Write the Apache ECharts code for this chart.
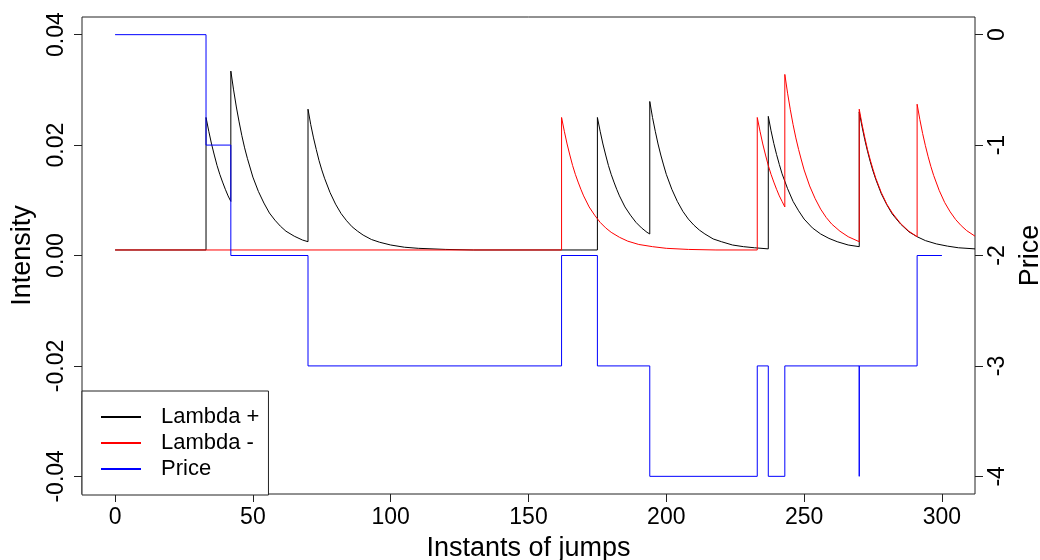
<!DOCTYPE html>
<html>
<head>
<meta charset="utf-8">
<script src="https://cdn.jsdelivr.net/npm/echarts@6.0.0/dist/echarts.min.js"></script>
<style>
html,body{margin:0;padding:0;background:#fff;}
#chart{width:1040px;height:560px;}
</style>
</head>
<body>
<div id="chart"></div>
<script>
// Tick values
const xTicks = [0, 50, 100, 150, 200, 250, 300];
const intensityTicks = [-0.04, -0.02, 0, 0.02, 0.04];
const priceTicks = [-4, -3, -2, -1, 0];

// Lambda + (black) [instant, intensity]
const lambdaPlus = [
  [0,0.001],[33,0.001],[33,0.025],[34,0.0225],[35,0.0202],[36,0.0182],[37,0.0163],[38,0.0147],[39,0.0133],[40,0.0120],[41,0.0108],[42,0.0098],
  [42,0.0334],[43,0.0300],[44,0.0269],[45,0.0242],[46,0.0217],[47,0.0195],[48,0.0176],[50,0.0142],[52,0.0116],[54,0.0095],[56,0.0077],[58,0.0064],[60,0.0053],[62,0.0044],[65,0.0035],[68,0.0028],[70,0.0025],
  [70,0.0265],[71,0.0237],[72,0.0213],[73,0.0192],[74,0.0172],[75,0.0155],[76,0.0140],[78,0.0114],[80,0.0093],[82,0.0076],[84,0.0063],[86,0.0052],[88,0.0044],[90,0.0037],[93,0.0029],[96,0.0024],[100,0.0019],[105,0.0015],[110,0.0013],[120,0.0011],[130,0.0010],[175,0.0010],
  [175,0.025],[176,0.0225],[177,0.0202],[178,0.0182],[179,0.0163],[180,0.0147],[181,0.0133],[182,0.0120],[183,0.0108],[185,0.0088],[187,0.0073],[189,0.0060],[191,0.0050],[193,0.0042],[194,0.0039],
  [194,0.0279],[195,0.0250],[196,0.0225],[197,0.0202],[198,0.0182],[199,0.0164],[200,0.0147],[202,0.0120],[204,0.0098],[206,0.0080],[208,0.0066],[210,0.0055],[212,0.0046],[214,0.0039],[217,0.0030],[220,0.0025],[224,0.0019],[228,0.0016],[232,0.0014],[237,0.0012],
  [237,0.0252],[238,0.0226],[239,0.0203],[240,0.0183],[241,0.0165],[242,0.0148],[244,0.0121],[246,0.0098],[248,0.0081],[250,0.0066],[253,0.0050],[256,0.0039],[259,0.0031],[262,0.0025],[266,0.0019],[270,0.0016],
  [270,0.0260],[271,0.0234],[272,0.0210],[273,0.0189],[274,0.0170],[275,0.0153],[276,0.0138],[278,0.0112],[280,0.0092],[282,0.0075],[285,0.0057],[288,0.0043],[291,0.0034],[294,0.0027],[298,0.0021],[302,0.0017],[306,0.0014],[312,0.0012]
];

// Lambda - (red) [instant, intensity]
const lambdaMinus = [
  [0,0.001],[162,0.001],
  [162,0.025],[163,0.0225],[164,0.0202],[165,0.0182],[166,0.0163],[167,0.0147],[168,0.0133],[169,0.0120],[170,0.0108],[172,0.0088],[174,0.0073],[176,0.0060],[178,0.0050],[180,0.0042],[183,0.0033],[186,0.0026],[190,0.0020],[195,0.0016],[200,0.0013],[208,0.0011],[218,0.0010],[233,0.0010],
  [233,0.025],[234,0.0225],[235,0.0202],[236,0.0182],[237,0.0163],[238,0.0147],[239,0.0133],[240,0.0120],[241,0.0108],[242,0.0098],[243,0.0088],
  [243,0.0328],[244,0.0294],[245,0.0264],[246,0.0237],[247,0.0213],[248,0.0192],[249,0.0173],[250,0.0155],[252,0.0126],[254,0.0103],[256,0.0084],[258,0.0069],[260,0.0057],[263,0.0044],[266,0.0034],[270,0.0025],
  [270,0.0265],[271,0.0238],[272,0.0214],[273,0.0192],[274,0.0173],[275,0.0156],[276,0.0140],[278,0.0114],[280,0.0093],[282,0.0077],[285,0.0058],[288,0.0044],[291,0.0034],
  [291,0.0274],[292,0.0246],[293,0.0221],[294,0.0199],[295,0.0179],[296,0.0161],[297,0.0145],[299,0.0118],[301,0.0096],[303,0.0079],[305,0.0065],[307,0.0054],[309,0.0045],[312,0.0035]
];

// Price (blue step)
const priceTimes = [0, 33, 42, 70, 162, 175, 194, 233, 237, 243, 270, 270, 291, 300];
const priceValues = [0, -1, -2, -3, -2, -3, -4, -3, -4, -3, -4, -3, -2, -2];

const FONT = "'Liberation Sans', Arial, sans-serif";
const chart = echarts.init(document.getElementById('chart'), null, {renderer: 'canvas'});

const priceData = priceTimes.map((t, i) => [t, priceValues[i]]);

chart.setOption({
  animation: false,
  backgroundColor: '#fff',
  grid: {left: 82, right: 65, top: 17, bottom: 66, show: true, borderColor: '#222', borderWidth: 1,
    backgroundColor: 'transparent', containLabel: false, outerBoundsMode: 'none'},
  legend: {
    orient: 'vertical', left: 82, top: 391,
    data: ['Lambda +', 'Lambda -', 'Price'],
    icon: 'rect', itemWidth: 40, itemHeight: 2, itemGap: 4,
    padding: [15, 9, 15, 19],
    backgroundColor: '#fff', borderColor: '#222', borderWidth: 1, borderRadius: 0,
    selectedMode: false,
    textStyle: {fontFamily: FONT, fontSize: 22, color: '#000', lineHeight: 22, padding: [0, 0, 0, 15]}
  },
  xAxis: {
    type: 'value', min: -12, max: 312, position: 'bottom',
    name: 'Instants of jumps', nameLocation: 'middle', nameGap: 41,
    nameTextStyle: {fontFamily: FONT, fontSize: 27, color: '#000'},
    axisLine: {show: false, onZero: false},
    axisTick: {show: true, length: 8, lineStyle: {color: '#222'}, customValues: xTicks},
    axisLabel: {fontFamily: FONT, fontSize: 23, color: '#000', margin: 12, customValues: xTicks},
    splitLine: {show: false}
  },
  yAxis: [
    {
      type: 'value', min: -0.0432, max: 0.0432, position: 'left',
      name: 'Intensity', nameLocation: 'middle', nameGap: 46, nameRotate: 90,
      nameTextStyle: {fontFamily: FONT, fontSize: 27, color: '#000'},
      axisLine: {show: false, onZero: false},
      axisTick: {show: true, length: 8, lineStyle: {color: '#222'}, customValues: intensityTicks},
      axisLabel: {fontFamily: FONT, fontSize: 23, color: '#000', margin: 14, rotate: 90, customValues: intensityTicks,
        formatter: v => v.toFixed(2)},
      splitLine: {show: false}
    },
    {
      type: 'value', min: -4.16, max: 0.16, position: 'right',
      name: 'Price', nameLocation: 'middle', nameGap: 32, nameRotate: 90,
      nameTextStyle: {fontFamily: FONT, fontSize: 27, color: '#000'},
      axisLine: {show: false, onZero: false},
      axisTick: {show: true, length: 8, lineStyle: {color: '#222'}, customValues: priceTicks},
      axisLabel: {fontFamily: FONT, fontSize: 23, color: '#000', margin: 11, rotate: 90, customValues: priceTicks,
        formatter: v => String(v)},
      splitLine: {show: false}
    }
  ],
  series: [
    {name: 'Lambda +', type: 'line', xAxisIndex: 0, yAxisIndex: 0, data: lambdaPlus, showSymbol: false, symbol: 'none',
      lineStyle: {color: '#000', width: 1}, itemStyle: {color: '#000'}, z: 2},
    {name: 'Lambda -', type: 'line', xAxisIndex: 0, yAxisIndex: 0, data: lambdaMinus, showSymbol: false, symbol: 'none',
      lineStyle: {color: '#ff0000', width: 1}, itemStyle: {color: '#ff0000'}, z: 3},
    {name: 'Price', type: 'line', xAxisIndex: 0, yAxisIndex: 1, data: priceData, step: 'end', showSymbol: false, symbol: 'none',
      lineStyle: {color: '#0000ff', width: 1}, itemStyle: {color: '#0000ff'}, z: 4}
  ]
});
</script>
</body>
</html>
